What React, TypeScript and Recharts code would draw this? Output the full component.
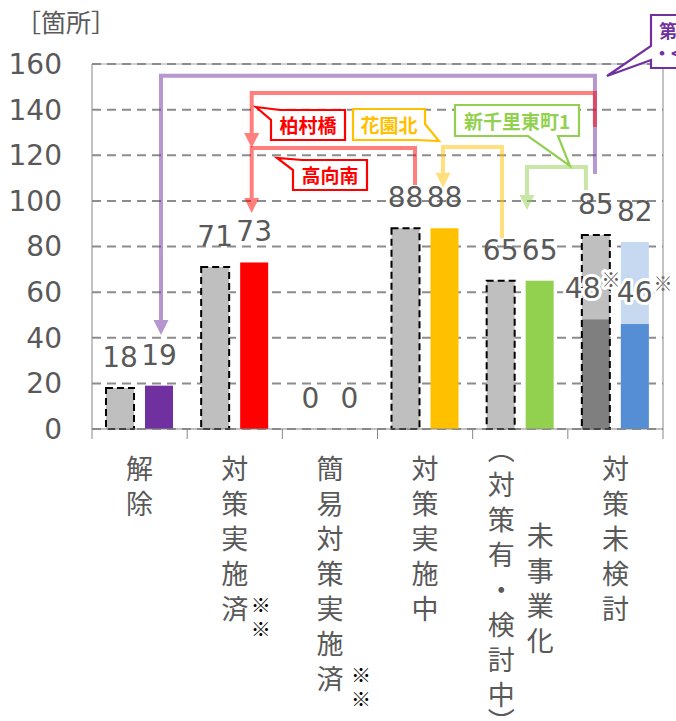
import React from 'react';
import { BarChart, Bar, XAxis, YAxis, CartesianGrid, LabelList } from 'recharts';

const categories = ['解除', '対策実施済※※', '簡易対策実施済※※', '対策実施中', '未事業化（対策有・検討中）', '対策未検討'];
const previousCounts = [18, 71, 0, 88, 65, 85];
const currentCounts = [19, 73, 0, 88, 65, 82];
// only the last group is split into two segments
const previousLower = [null, null, null, null, null, 48];
const currentLower = [null, null, null, null, null, 46];
const yTicks = [0, 20, 40, 60, 80, 100, 120, 140, 160];

// vertical tick text, one string per column
const tickColumns = [['解除'], ['対策実施済'], ['簡易対策実施済'], ['対策実施中'], ['︵対策有・検討中︶', '未事業化'], ['対策未検討']];
const tickNotes = ['', '※※', '※※', '', '', ''];

const W = 676;
const H = 721;
const PLOT = { left: 92, right: 663, top: 64, bottom: 429 };
const Y_MAX = 160;
const BAND = (PLOT.right - PLOT.left) / categories.length;
const STEP = 35;

const TEXT = '#595959';
const AXIS = '#868686';
const GREY = '#BFBFBF';
const DARK_GREY = '#7F7F7F';
const BLUE = '#558ED5';
const CURRENT_COLORS = ['#7030A0', '#FF0000', '#FF0000', '#FFC000', '#92D050', '#C6D9F1'];
const NUM_FONT = "'DejaVu Sans', sans-serif";
const JP_FONT = "'Noto Sans CJK JP', sans-serif";

// tick column placement (dx from category centre, top of first glyph)
const columnLayout = [
  [{ dx: 0, top: 457 }],
  [{ dx: 0, top: 457 }],
  [{ dx: 0, top: 457 }],
  [{ dx: 0, top: 457 }],
  [{ dx: -19, top: 438 }, { dx: 20, top: 524 }],
  [{ dx: 0, top: 457 }],
];
const noteDx = [0, 26, 31, 0, 0, 0];

// connectors in chart units: [category slot, value]
const connectors = [
  { color: '#7030A0', path: [[5.285, 111.8], [5.285, 154.8], [0.725, 154.8], [0.725, 41.2]] },
  { color: '#FF0000', path: [[5.285, 132.4], [5.285, 147.3], [1.678, 147.3], [1.678, 123.2]] },
  { color: '#FF0000', path: [[3.394, 107], [3.394, 123.2], [1.678, 123.2], [1.678, 94.7]] },
  { color: '#FFC000', path: [[4.308, 83.7], [4.308, 123.6], [3.688, 123.6], [3.688, 105.7]] },
  { color: '#92D050', path: [[5.19, 104.8], [5.19, 114.9], [4.571, 114.9], [4.571, 96]] },
];

const callouts = [
  { text: '柏村橋', color: '#FF0000', cx: 308, baseline: 133, points: [[280, 110], [345, 110], [345, 140], [271, 140], [271, 120], [256, 107]] },
  { text: '高向南', color: '#FF0000', cx: 330, baseline: 183, points: [[302, 160], [367, 160], [367, 190], [293, 190], [293, 170], [277, 158]] },
  { text: '花園北', color: '#FFC000', cx: 389, baseline: 133, points: [[353, 109], [425, 109], [425, 124], [439, 141], [418, 140], [353, 140]] },
  { text: '新千里東町1', color: '#92D050', cx: 517, baseline: 129, points: [[455, 105], [579, 105], [579, 136], [558, 136], [570, 166], [528, 136], [455, 136]] },
];

const data = categories.map((name, i) => ({
  name,
  prev: previousCounts[i],
  curr: currentCounts[i],
  prevLower: previousLower[i],
  currLower: currentLower[i],
}));

const sx = (u: number) => PLOT.left + u * BAND;
const sy = (v: number) => PLOT.bottom - (v / Y_MAX) * (PLOT.bottom - PLOT.top);

const splitLabel = (x: number, top: number, value: number) => (
  <text
    x={x}
    y={top - 22}
    fill={TEXT}
    fontSize={28}
    fontFamily={NUM_FONT}
    stroke="#fff"
    strokeWidth={6}
    strokeLinejoin="round"
    paintOrder="stroke"
  >
    {value}
    <tspan fontSize={19} dx={1} dy={-11} fontFamily={JP_FONT}>※</tspan>
  </text>
);

const PrevBar = (props: any) => {
  const { x, y, width, height, payload } = props;
  if (!(height > 0)) return <g />;
  const lower = payload.prevLower;
  const lh = lower != null ? (height * lower) / payload.prev : 0;
  return (
    <g>
      <rect x={x} y={y} width={width} height={height} fill={GREY} />
      {lh > 0 && <rect x={x} y={y + height - lh} width={width} height={lh} fill={DARK_GREY} />}
      <rect x={x} y={y} width={width} height={height} fill="none" stroke="#000" strokeWidth={2} strokeDasharray="7 4" />
      {lh > 0 && splitLabel(x - 17, y + height - lh, lower)}
    </g>
  );
};

const CurrBar = (props: any) => {
  const { x, y, width, height, payload, index } = props;
  if (!(height > 0)) return <g />;
  const lower = payload.currLower;
  const lh = lower != null ? (height * lower) / payload.curr : 0;
  return (
    <g>
      <rect x={x} y={y} width={width} height={height} fill={CURRENT_COLORS[index]} />
      {lh > 0 && <rect x={x} y={y + height - lh} width={width} height={lh} fill={BLUE} />}
      {lh > 0 && splitLabel(x - 4, y + height - lh, lower)}
    </g>
  );
};

const TopLabel = (props: any) => {
  const vb = props.viewBox || props;
  const { x, y, width } = vb;
  return (
    <text x={x + width / 2} y={y - 21} textAnchor="middle" fill={TEXT} fontSize={28} fontFamily={NUM_FONT}>
      {props.value}
    </text>
  );
};

const CategoryTick = (props: any) => {
  const { x, payload } = props;
  const i = categories.indexOf(payload.value);
  if (i < 0) return <g />;
  const cols = tickColumns[i];
  const layout = columnLayout[i];
  const first = layout[0];
  const lastBase = first.top + 22 + (cols[0].length - 1) * STEP;
  return (
    <g>
      <line x1={x - BAND / 2} x2={x - BAND / 2} y1={PLOT.bottom} y2={PLOT.bottom + 10} stroke={AXIS} />
      {i === categories.length - 1 && (
        <line x1={x + BAND / 2} x2={x + BAND / 2} y1={PLOT.top} y2={PLOT.bottom + 10} stroke={AXIS} />
      )}
      {cols.map((col, c) =>
        col.split('').map((ch, k) => (
          <text
            key={`${c}-${k}`}
            x={x + layout[c].dx}
            y={layout[c].top + 22 + k * STEP - (ch === '︶' ? 8 : 0)}
            textAnchor="middle"
            fill={TEXT}
            fontSize={27}
            fontFamily={JP_FONT}
          >
            {ch}
          </text>
        ))
      )}
      {tickNotes[i].split('').map((ch, k) => (
        <text
          key={`n-${k}`}
          x={x + noteDx[i]}
          y={lastBase - 6.5 + k * 24.5}
          textAnchor="middle"
          fill="#000"
          fontSize={20}
          fontFamily={JP_FONT}
        >
          {ch}
        </text>
      ))}
    </g>
  );
};

const Connector = ({ color, path }: { color: string; path: number[][] }) => {
  const pts = path.map(([u, v]) => [sx(u), sy(v)]);
  const tip = pts[pts.length - 1];
  const ah = 15;
  const linePts = pts.map((p, k) => (k === pts.length - 1 ? [p[0], p[1] - ah] : p));
  const d = linePts.map((p, k) => `${k === 0 ? 'M' : 'L'}${p[0]},${p[1]}`).join(' ');
  return (
    <g opacity={0.5}>
      <path d={d} fill="none" stroke={color} strokeWidth={4} />
      <polygon points={`${tip[0]},${tip[1]} ${tip[0] - 7.5},${tip[1] - ah} ${tip[0] + 7.5},${tip[1] - ah}`} fill={color} />
    </g>
  );
};

export default function App() {
  return (
    <div style={{ position: 'absolute', left: 0, top: 0, width: W, height: H, background: '#fff', overflow: 'hidden' }}>
      <svg width={W} height={H} style={{ position: 'absolute', left: 0, top: 0 }}>
        <line x1={PLOT.left} x2={PLOT.right} y1={PLOT.top} y2={PLOT.top} stroke="#A6A6A6" />
      </svg>
      <div style={{ position: 'absolute', left: 0, top: 0 }}>
        <BarChart
          width={W}
          height={H}
          data={data}
          margin={{ top: 64, right: 13, left: 0, bottom: 12 }}
          barSize={28}
          barGap={11}
        >
          <CartesianGrid vertical={false} stroke="#8C8C8C" strokeWidth={2} strokeDasharray="9 6" />
          <XAxis
            dataKey="name"
            height={280}
            interval={0}
            tickLine={false}
            axisLine={{ stroke: AXIS }}
            tick={(p: any) => <CategoryTick {...p} />}
          />
          <YAxis
            domain={[0, Y_MAX]}
            ticks={yTicks}
            width={92}
            tickLine={false}
            tickSize={0}
            tickMargin={30}
            axisLine={{ stroke: AXIS }}
            tick={{ fill: TEXT, fontSize: 28, fontFamily: NUM_FONT }}
          />
          <Bar dataKey="prev" shape={PrevBar} isAnimationActive={false}>
            <LabelList dataKey="prev" content={TopLabel} />
          </Bar>
          <Bar dataKey="curr" shape={CurrBar} isAnimationActive={false}>
            <LabelList dataKey="curr" content={TopLabel} />
          </Bar>
        </BarChart>
      </div>
      <svg width={W} height={H} style={{ position: 'absolute', left: 0, top: 0, pointerEvents: 'none' }}>
        <text x={16} y={32} fill={TEXT} fontSize={25} fontFamily={JP_FONT}>［箇所］</text>
        {connectors.map((c, k) => (
          <Connector key={k} color={c.color} path={c.path} />
        ))}
        {callouts.map((c) => (
          <g key={c.text}>
            <polygon points={c.points.map((p) => p.join(',')).join(' ')} fill="#fff" stroke={c.color} strokeWidth={2.2} />
            <text x={c.cx} y={c.baseline} textAnchor="middle" fill={c.color} fontSize={19} fontWeight={700} fontFamily={JP_FONT}>
              {c.text}
            </text>
          </g>
        ))}
        <polygon
          points="651,15 720,15 720,68 651,68 651,60 607,76 651,46"
          fill="#fff"
          stroke="#7030A0"
          strokeWidth={2.2}
        />
        <text x={659} y={38} fill="#7030A0" fontSize={18} fontWeight={700} fontFamily={JP_FONT}>第1回</text>
        <text x={653} y={60} fill="#7030A0" fontSize={18} fontWeight={700} fontFamily={JP_FONT}>・&lt;</text>
      </svg>
    </div>
  );
}
